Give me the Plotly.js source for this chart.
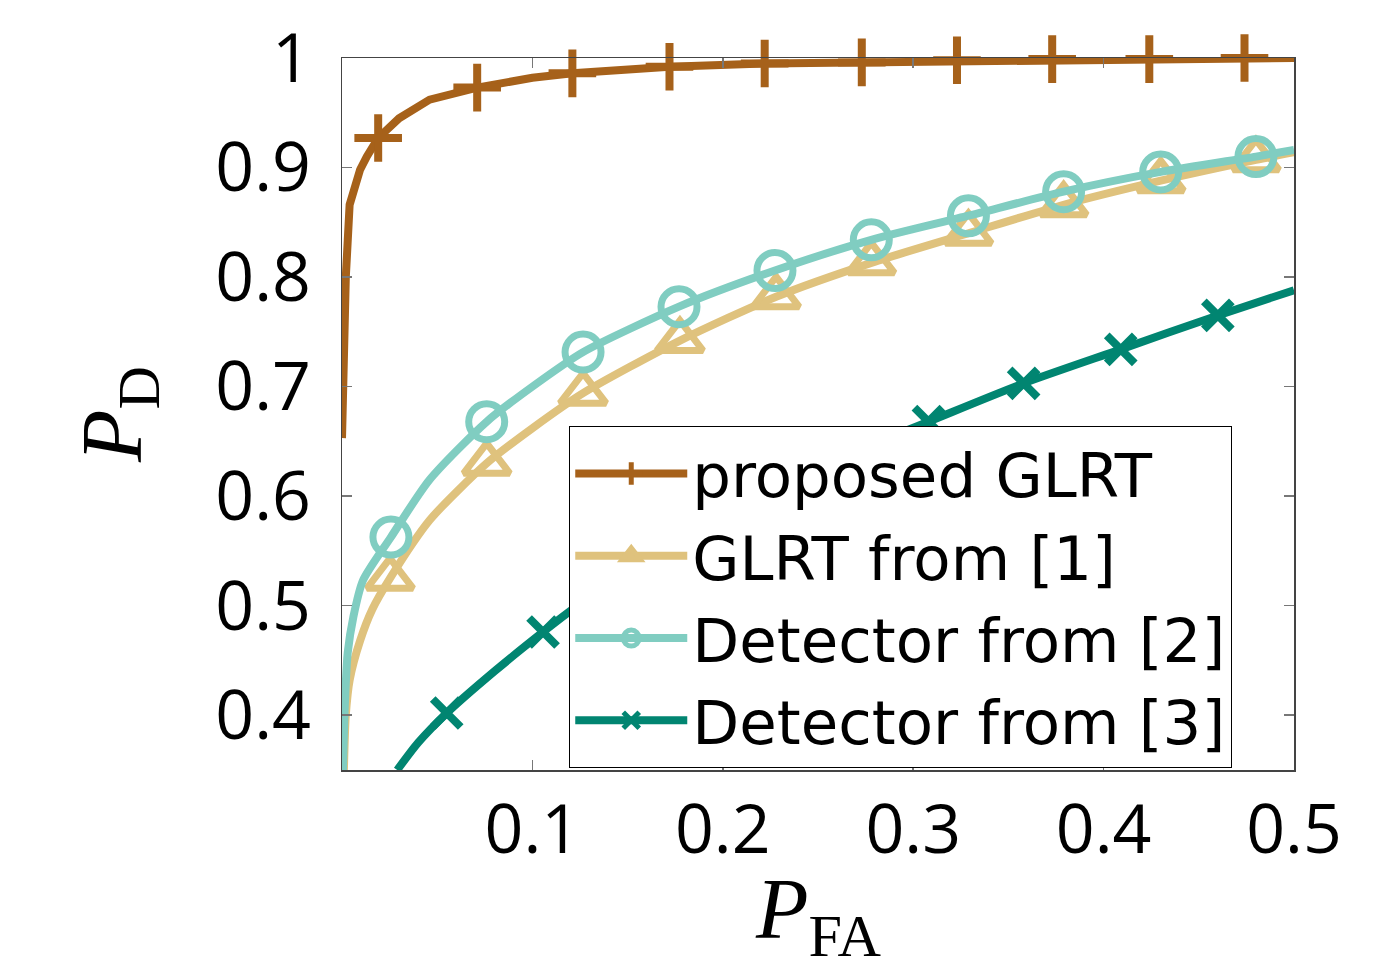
<!DOCTYPE html>
<html>
<head>
<meta charset="utf-8">
<script src="https://cdn.plot.ly/plotly-3.0.1.min.js"></script>
<style>html,body{margin:0;padding:0;background:#fff;}#chart{width:1397px;height:971px;}</style>
</head>
<body>
<div id="chart"></div>
<script>
// ---- data ----
const seriesNames = ['proposed GLRT', 'GLRT from [1]', 'Detector from [2]', 'Detector from [3]'];
const xTitle = '<i>P</i><sub>FA</sub>';
const yTitle = '<i>P</i><sub>D</sub>';

const proposedPfa = [0, 0.002, 0.004, 0.007, 0.0095, 0.013, 0.019, 0.03, 0.046, 0.071, 0.1, 0.121, 0.172, 0.222, 0.273, 0.323, 0.373, 0.424, 0.474, 0.5];
const proposedPd  = [0.653, 0.80, 0.866, 0.885, 0.898, 0.91, 0.927, 0.945, 0.962, 0.973, 0.982, 0.986, 0.992, 0.995, 0.996, 0.998, 0.999, 0.999, 1.0, 1.0];
const proposedMarkPfa = [0.019, 0.071, 0.121, 0.172, 0.222, 0.273, 0.323, 0.373, 0.424, 0.474];
const proposedMarkPd  = [0.927, 0.973, 0.986, 0.992, 0.995, 0.996, 0.998, 0.999, 0.999, 1.0];

const glrt1Pfa = [0.001, 0.002, 0.004, 0.0095, 0.016, 0.0252, 0.046, 0.076, 0.1, 0.1266, 0.1775, 0.228, 0.278, 0.329, 0.379, 0.430, 0.480, 0.5];
const glrt1Pd  = [0.35, 0.40, 0.432, 0.468, 0.497, 0.525, 0.578, 0.630, 0.662, 0.694, 0.742, 0.782, 0.813, 0.840, 0.866, 0.888, 0.907, 0.914];
const glrt1MarkPfa = [0.0252, 0.076, 0.1266, 0.1775, 0.228, 0.278, 0.329, 0.379, 0.430, 0.480];
const glrt1MarkPd  = [0.525, 0.630, 0.694, 0.742, 0.782, 0.813, 0.840, 0.866, 0.888, 0.907];

const det2Pfa = [0.0005, 0.0015, 0.003, 0.006, 0.011, 0.0257, 0.046, 0.076, 0.1, 0.1266, 0.177, 0.2274, 0.278, 0.329, 0.379, 0.430, 0.480, 0.5];
const det2Pd  = [0.35, 0.41, 0.457, 0.49, 0.523, 0.5626, 0.615, 0.668, 0.70, 0.7315, 0.773, 0.806, 0.834, 0.856, 0.878, 0.896, 0.910, 0.916];
const det2MarkPfa = [0.0257, 0.076, 0.1266, 0.177, 0.2274, 0.278, 0.329, 0.379, 0.430, 0.480];
const det2MarkPd  = [0.5626, 0.668, 0.7315, 0.773, 0.806, 0.834, 0.856, 0.878, 0.896, 0.910];

const det3Pfa = [0.029, 0.04, 0.055, 0.08, 0.1056, 0.119, 0.156, 0.207, 0.257, 0.308, 0.358, 0.409, 0.460, 0.5];
const det3Pd  = [0.35, 0.375, 0.402, 0.44, 0.476, 0.494, 0.54, 0.59, 0.632, 0.668, 0.703, 0.734, 0.765, 0.788];
const det3MarkPfa = [0.055, 0.1056, 0.156, 0.207, 0.257, 0.308, 0.358, 0.409, 0.460];
const det3MarkPd  = [0.402, 0.476, 0.54, 0.59, 0.632, 0.668, 0.703, 0.734, 0.765];

const xTickVals = [0.1, 0.2, 0.3, 0.4, 0.5];
const xTickText = ['0.1', '0.2', '0.3', '0.4', '0.5'];
const yTickVals = [0.4, 0.5, 0.6, 0.7, 0.8, 0.9, 1.0];
const yTickText = ['0.4', '0.5', '0.6', '0.7', '0.8', '0.9', '1'];

// ---- styles ----
const styles = [
  {color: '#a6611a', symbol: 'cross-thin', size: 34, mlw: 8, shape: 'linear'},
  {color: '#dfc27d', symbol: 'triangle-up-open', size: 40, mlw: 7, shape: 'spline'},
  {color: '#80cdc1', symbol: 'circle-open', size: 36, mlw: 7, shape: 'spline'},
  {color: '#018571', symbol: 'x-thin', size: 28, mlw: 8, shape: 'spline'}
];
const curves = [
  [proposedPfa, proposedPd, proposedMarkPfa, proposedMarkPd],
  [glrt1Pfa, glrt1Pd, glrt1MarkPfa, glrt1MarkPd],
  [det2Pfa, det2Pd, det2MarkPfa, det2MarkPd],
  [det3Pfa, det3Pd, det3MarkPfa, det3MarkPd]
];

const traces = [];
curves.forEach((c, i) => {
  const s = styles[i];
  traces.push({
    x: c[0], y: c[1], type: 'scatter', mode: 'lines',
    line: {color: s.color, width: 8, shape: s.shape, smoothing: 0.7},
    showlegend: false, legendgroup: 'g' + i, hoverinfo: 'skip'
  });
  traces.push({
    x: c[2], y: c[3], type: 'scatter', mode: 'markers',
    marker: {color: s.color, symbol: s.symbol, size: s.size, line: {color: s.color, width: s.mlw}},
    showlegend: false, legendgroup: 'g' + i, cliponaxis: false
  });
});
curves.forEach((c, i) => {
  const s = styles[i];
  traces.push({
    x: [null], y: [null], type: 'scatter', mode: 'lines+markers', name: seriesNames[i],
    line: {color: s.color, width: 8},
    marker: {color: s.color, symbol: s.symbol, size: s.size, line: {color: s.color, width: s.mlw}},
    legendgroup: 'g' + i
  });
});

const tickFont = {family: 'Open Sans, Lato, sans-serif', size: 68, color: '#000'};
const titleFont = {family: 'Liberation Serif, DejaVu Serif, serif', size: 86, color: '#000'};
const layout = {
  width: 1397, height: 971,
  margin: {l: 342, r: 103, t: 58, b: 201},
  paper_bgcolor: '#fff', plot_bgcolor: '#fff',
  showlegend: true,
  xaxis: {
    range: [0, 0.5], tickvals: xTickVals, ticktext: xTickText,
    ticks: 'inside', ticklen: 10, tickwidth: 1.5, tickcolor: '#777',
    showline: true, linecolor: '#444', linewidth: 1.5, mirror: 'ticks',
    showgrid: false, zeroline: false, tickfont: tickFont, ticklabelstandoff: 0
  },
  yaxis: {
    range: [0.35, 1], tickvals: yTickVals, ticktext: yTickText,
    ticks: 'inside', ticklen: 10, tickwidth: 1.5, tickcolor: '#777',
    showline: true, linecolor: '#444', linewidth: 1.5, mirror: 'ticks',
    showgrid: false, zeroline: false, tickfont: tickFont, ticklabelstandoff: 16,
    title: {text: yTitle, font: titleFont, standoff: 45}
  },
  annotations: [{
    text: xTitle, xref: 'paper', yref: 'paper', x: 0.5, y: -0.203,
    xanchor: 'center', yanchor: 'middle', showarrow: false, font: titleFont
  }],
  legend: {
    x: 0.2385, y: 0.483, xanchor: 'left', yanchor: 'top',
    bgcolor: '#fff', bordercolor: '#000', borderwidth: 1.2,
    font: {family: 'DejaVu Sans, sans-serif', size: 61, color: '#000'},
    itemwidth: 112, tracegroupgap: 0
  }
};

Plotly.newPlot('chart', traces, layout, {displayModeBar: false, staticPlot: true});
</script>
</body>
</html>
